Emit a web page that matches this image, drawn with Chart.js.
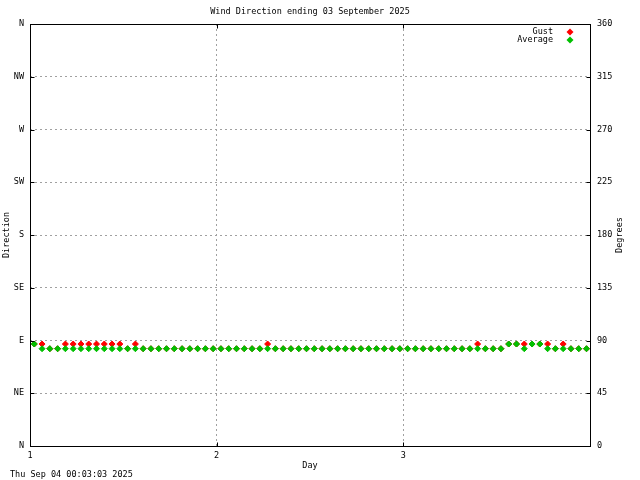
<!DOCTYPE html>
<html>
<head>
<meta charset="utf-8">
<script src="https://cdn.jsdelivr.net/npm/chart.js@4/dist/chart.umd.min.js"></script>
<style>
  html, body { margin: 0; padding: 0; background: #ffffff; }
  #wrap { width: 640px; height: 480px; }
</style>
</head>
<body>
<div id="wrap"><canvas id="windChart" width="640" height="480"></canvas></div>
<script>
// Wind direction chart - hourly readings over three days

const titleText = 'Wind Direction ending 03 September 2025';
const stampText = 'Thu Sep 04 00:03:03 2025';

// hour index of each reading (day 1 starts at hour 0)
const hours = [
  0, 1, 2, 3, 4, 5, 6, 7, 8, 9, 10, 11, 12, 13, 14, 15, 16, 17, 18, 19, 20, 21, 22, 23,
  24, 25, 26, 27, 28, 29, 30, 31, 32, 33, 34, 35, 36, 37, 38, 39, 40, 41, 42, 43, 44, 45, 46, 47,
  48, 49, 50, 51, 52, 53, 54, 55, 56, 57, 58, 59, 60, 61, 62, 63, 64, 65, 66, 67, 68, 69, 70, 71
];

// degrees
const gustDir = [
  87, 87, 83, 83, 87, 87, 87, 87, 87, 87, 87, 87, 83, 87, 83, 83, 83, 83, 83, 83, 83, 83, 83, 83,
  83, 83, 83, 83, 83, 83, 87, 83, 83, 83, 83, 83, 83, 83, 83, 83, 83, 83, 83, 83, 83, 83, 83, 83,
  83, 83, 83, 83, 83, 83, 83, 83, 83, 87, 83, 83, 83, 87, 87, 87, 87, 87, 87, 83, 87, 83, 83, 83
];
const avgDir = [
  87, 83, 83, 83, 83, 83, 83, 83, 83, 83, 83, 83, 83, 83, 83, 83, 83, 83, 83, 83, 83, 83, 83, 83,
  83, 83, 83, 83, 83, 83, 83, 83, 83, 83, 83, 83, 83, 83, 83, 83, 83, 83, 83, 83, 83, 83, 83, 83,
  83, 83, 83, 83, 83, 83, 83, 83, 83, 83, 83, 83, 83, 87, 87, 83, 87, 87, 83, 83, 83, 83, 83, 83
];

const compassLabels = ['N', 'NE', 'E', 'SE', 'S', 'SW', 'W', 'NW', 'N'];
const degreeLabels = ['0', '45', '90', '135', '180', '225', '270', '315', '360'];
const dayTicks = [1, 2, 3];

const FONT = 'DejaVu Sans Mono';
const GUST_COLOR = '#ff0000';
const AVG_COLOR = '#00c000';

function toPoints(values) {
  return hours.map((h, i) => ({ x: 1 + (h + 0.55) / 24, y: values[i] }));
}

function diamond(ctx, x, y, color) {
  ctx.fillStyle = color;
  ctx.beginPath();
  ctx.moveTo(x, y - 3.5);
  ctx.lineTo(x + 3.5, y);
  ctx.lineTo(x, y + 3.5);
  ctx.lineTo(x - 3.5, y);
  ctx.closePath();
  ctx.fill();
}

// Frame, inner ticks, titles and legend drawn on top like gnuplot does
const decorPlugin = {
  id: 'decor',
  afterDraw(chart) {
    const ctx = chart.ctx;
    const area = chart.chartArea;
    const L = Math.round(area.left) + 0.5, R = Math.round(area.right) + 0.5;
    const T = Math.round(area.top) + 0.5, B = Math.round(area.bottom) + 0.5;
    ctx.save();

    ctx.strokeStyle = '#000000';
    ctx.lineWidth = 1;
    ctx.strokeRect(L, T, R - L, B - T);

    // small inward tick marks
    ctx.beginPath();
    chart.scales.x.ticks.forEach(t => {
      const px = Math.round(chart.scales.x.getPixelForValue(t.value)) + 0.5;
      ctx.moveTo(px, B); ctx.lineTo(px, B - 4);
      ctx.moveTo(px, T); ctx.lineTo(px, T + 4);
    });
    chart.scales.y.ticks.forEach(t => {
      const py = Math.round(chart.scales.y.getPixelForValue(t.value)) + 0.5;
      ctx.moveTo(L, py); ctx.lineTo(L + 4, py);
      ctx.moveTo(R, py); ctx.lineTo(R - 4, py);
    });
    ctx.stroke();

    ctx.fillStyle = '#000000';
    ctx.font = '8.5px "' + FONT + '"';
    ctx.textBaseline = 'middle';

    ctx.textAlign = 'center';
    ctx.fillText(titleText, 310, 12);
    ctx.fillText('Day', 310, 466);

    ctx.textAlign = 'left';
    ctx.fillText(stampText, 10, 475);

    ctx.save();
    ctx.translate(7, 235);
    ctx.rotate(-Math.PI / 2);
    ctx.textAlign = 'center';
    ctx.fillText('Direction', 0, 0);
    ctx.restore();

    ctx.save();
    ctx.translate(620, 235);
    ctx.rotate(-Math.PI / 2);
    ctx.textAlign = 'center';
    ctx.fillText('Degrees', 0, 0);
    ctx.restore();

    // legend
    const legend = [['Gust', GUST_COLOR, 32], ['Average', AVG_COLOR, 40]];
    ctx.textAlign = 'right';
    legend.forEach(([label, color, y]) => {
      ctx.fillStyle = '#000000';
      ctx.fillText(label, 553, y);
      diamond(ctx, 570, y, color);
    });

    ctx.restore();
  }
};

const ctx = document.getElementById('windChart');

new Chart(ctx.getContext('2d'), {
  type: 'scatter',
  data: {
    datasets: [
      {
        label: 'Average',
        data: toPoints(avgDir),
        backgroundColor: AVG_COLOR,
        borderColor: AVG_COLOR,
        pointStyle: 'rectRot',
        pointRadius: 3,
        borderWidth: 1,
        order: 0
      },
      {
        label: 'Gust',
        data: toPoints(gustDir),
        backgroundColor: GUST_COLOR,
        borderColor: GUST_COLOR,
        pointStyle: 'rectRot',
        pointRadius: 3,
        borderWidth: 1,
        order: 1
      }
    ]
  },
  options: {
    responsive: false,
    animation: false,
    events: [],
    layout: { padding: { top: 24, left: 0, right: 0, bottom: 0 } },
    plugins: {
      legend: { display: false },
      title: { display: false },
      tooltip: { enabled: false }
    },
    scales: {
      x: {
        type: 'linear',
        min: 1,
        max: 4,
        afterBuildTicks: (scale) => {
          scale.ticks = dayTicks.map(v => ({ value: v }));
        },
        afterFit: (scale) => { scale.height = 34; },
        ticks: {
          color: '#000000',
          font: { family: FONT, size: 8.5 },
          padding: 5,
          maxRotation: 0,
          autoSkip: false
        },
        grid: { color: '#a0a0a0', lineWidth: 1, drawTicks: false },
        border: { display: false, dash: [2, 3] }
      },
      y: {
        type: 'linear',
        position: 'left',
        min: 0,
        max: 360,
        afterFit: (scale) => { scale.width = 30; },
        ticks: {
          stepSize: 45,
          color: '#000000',
          font: { family: FONT, size: 8.5 },
          padding: 6,
          callback: (v) => compassLabels[Math.round(v / 45)]
        },
        grid: { color: '#a0a0a0', lineWidth: 1, drawTicks: false },
        border: { display: false, dash: [2, 3] }
      },
      y2: {
        type: 'linear',
        position: 'right',
        min: 0,
        max: 360,
        afterFit: (scale) => { scale.width = 50; },
        ticks: {
          stepSize: 45,
          color: '#000000',
          font: { family: FONT, size: 8.5 },
          padding: 7,
          callback: (v) => degreeLabels[Math.round(v / 45)]
        },
        grid: { display: false, drawTicks: false },
        border: { display: false }
      }
    }
  },
  plugins: [decorPlugin]
});
</script>
</body>
</html>
